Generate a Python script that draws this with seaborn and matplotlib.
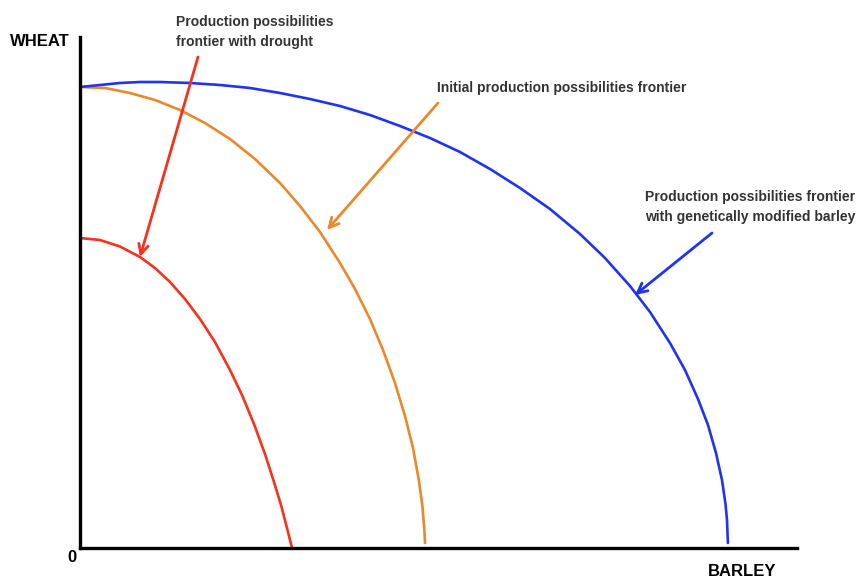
import matplotlib
matplotlib.use("Agg")
import matplotlib.pyplot as plt
import pandas as pd
import seaborn as sns

# frontier points (barley, wheat)
drought_barley = [0, 20, 40, 60, 75, 90, 105, 120, 135, 150, 162, 174, 185, 194, 201, 207, 212]
drought_wheat = [310, 308, 301.5, 291, 280, 266, 249, 229, 206, 178, 153, 124, 94, 66, 43, 20, 0]

initial_barley = [0, 25, 50, 75, 100, 125, 150, 175, 200, 220, 240, 260, 275, 290, 303,
                  315, 325, 333, 339, 342.5, 344.5, 345]
initial_wheat = [461, 460, 455, 448, 438, 425, 409, 389, 365, 342, 316, 285, 259, 229, 198,
                 165, 132, 100, 67, 41, 16, 5]

gm_barley = [0, 20, 40, 60, 80, 110, 140, 170, 200, 230, 260, 290, 320, 350, 380, 410, 440,
             470, 500, 525, 550, 570, 590, 605, 618, 628, 636, 642, 645.5, 647, 647.9]
gm_wheat = [461, 463, 465, 466, 466, 465, 463, 460, 455, 449, 442, 433, 422, 410, 396, 379, 360,
            339, 314, 290, 262, 236, 205, 178, 149, 123, 95, 68, 44, 28, 5]

labels = ["Production possibilities\nfrontier with drought",
          "Initial production possibilities frontier",
          "Production possibilities frontier\nwith genetically modified barley"]
colors = ["#f5321e", "#e8892b", "#1f33f0"]

frames = []
for name, xs, ys in [("drought", drought_barley, drought_wheat),
                     ("initial", initial_barley, initial_wheat),
                     ("gm", gm_barley, gm_wheat)]:
    frames.append(pd.DataFrame({"barley": xs, "wheat": ys, "frontier": name}))
data = pd.concat(frames, ignore_index=True)

sns.set_style("white")
plt.rcParams["font.family"] = ["Liberation Sans", "DejaVu Sans"]

fig = plt.figure(figsize=(8.58, 5.81), dpi=100)
ax = fig.add_axes([80 / 858, 33 / 581, 717 / 858, 511 / 581])

sns.lineplot(data=data, x="barley", y="wheat", hue="frontier", palette=colors,
             sort=False, estimator=None, linewidth=1.9, legend=False, ax=ax)

ax.set_xlim(0, 717)
ax.set_ylim(0, 511)
ax.set_xticks([])
ax.set_yticks([])
ax.set_xlabel("")
ax.set_ylabel("")
for side in ["top", "right"]:
    ax.spines[side].set_visible(False)
for side in ["left", "bottom"]:
    ax.spines[side].set_linewidth(2.4)
    ax.spines[side].set_color("black")

# arrows from labels to curves
arrows = [((118, 491), (60, 291)), ((358, 445), (247, 318)), ((632, 315), (555, 253))]
for (start, tip), c in zip(arrows, colors):
    ax.annotate("", xy=tip, xytext=start,
                arrowprops=dict(arrowstyle="->,head_length=0.7,head_width=0.35",
                                color=c, lw=2, shrinkA=0, shrinkB=0))

tcol = "#333333"
ax.text(96, 516, labels[0], ha="left", va="center", fontsize=10, fontweight="bold",
        color=tcol, linespacing=1.5, clip_on=False)
ax.text(357, 460, labels[1], ha="left", va="center", fontsize=10, fontweight="bold",
        color=tcol, clip_on=False)
ax.text(565, 341, labels[2], ha="left", va="center", fontsize=10, fontweight="bold",
        color=tcol, linespacing=1.5, clip_on=False)

fig.text(10 / 858, 1 - 42 / 581, "WHEAT", ha="left", va="center", fontsize=12,
         fontweight="bold", color="black")
fig.text(72 / 858, 1 - 557 / 581, "0", ha="center", va="center", fontsize=12,
         fontweight="bold", color="black")
fig.text(742 / 858, 1 - 572 / 581, "BARLEY", ha="center", va="center", fontsize=12,
         fontweight="bold", color="black")

fig.savefig("out.png", dpi=100, facecolor="white")
